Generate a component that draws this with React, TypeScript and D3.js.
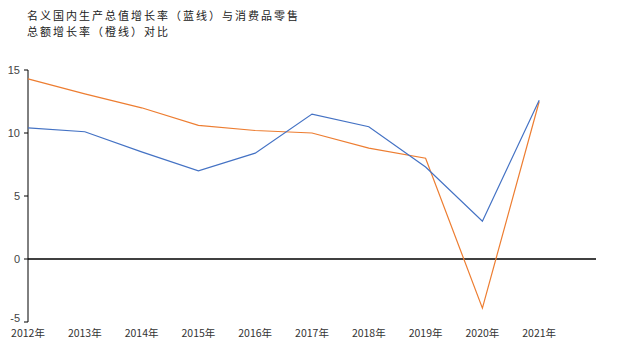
import { useRef, useEffect } from 'react'
import * as d3 from 'd3'

const years = ['2012年', '2013年', '2014年', '2015年', '2016年', '2017年', '2018年', '2019年', '2020年', '2021年']
const gdpGrowth = [10.4, 10.1, 8.5, 7.0, 8.4, 11.5, 10.5, 7.3, 3.0, 12.6]
const retailGrowth = [14.3, 13.1, 12.0, 10.6, 10.2, 10.0, 8.8, 8.0, -3.9, 12.5]
const yTicks = [-5, 0, 5, 10, 15]
const titleLines = ['名义国内生产总值增长率（蓝线）与消费品零售', '总额增长率（橙线）对比']

const App = () => {
  const ref = useRef<SVGSVGElement>(null)

  useEffect(() => {
    const svg = d3.select(ref.current)
    svg.selectAll('*').remove()

    const width = 631
    const height = 354
    const left = 28
    const right = 596
    const top = 70
    const bottom = 322

    svg.attr('width', width).attr('height', height)

    const x = d3.scaleLinear()
      .domain([0, years.length])
      .range([left, right])

    const y = d3.scaleLinear()
      .domain([-5, 15])
      .range([bottom, top])

    const font = '"Noto Sans CJK SC", "Noto Sans", sans-serif'

    // title
    svg.append('g')
      .selectAll('text')
      .data(titleLines)
      .enter()
      .append('text')
      .attr('x', 27)
      .attr('y', (d, i) => 20 + i * 16)
      .style('font-family', font)
      .style('font-size', '11px')
      .style('letter-spacing', '2px')
      .style('fill', '#222')
      .text((d) => d)

    // y axis
    svg.append('line')
      .attr('x1', left).attr('x2', left)
      .attr('y1', y(15)).attr('y2', y(-5))
      .style('stroke', 'black')
      .style('stroke-width', 1)

    const ticks = svg.append('g')
    ticks.selectAll('line')
      .data(yTicks)
      .enter()
      .append('line')
      .attr('x1', left - 4).attr('x2', left)
      .attr('y1', (d) => y(d)).attr('y2', (d) => y(d))
      .style('stroke', 'black')

    ticks.selectAll('text')
      .data(yTicks)
      .enter()
      .append('text')
      .attr('x', left - 8)
      .attr('y', (d) => Math.min(y(d) + 4, bottom))
      .attr('text-anchor', 'end')
      .style('font-family', '"Liberation Sans", Arial, sans-serif')
      .style('font-size', '11px')
      .style('fill', '#444')
      .text((d) => d)

    // zero line
    svg.append('line')
      .attr('x1', left).attr('x2', right)
      .attr('y1', y(0)).attr('y2', y(0))
      .style('stroke', 'black')
      .style('stroke-width', 1.3)

    // x labels
    svg.append('g')
      .selectAll('text')
      .data(years)
      .enter()
      .append('text')
      .attr('x', (d, i) => x(i))
      .attr('y', bottom + 15)
      .attr('text-anchor', 'middle')
      .style('font-family', font)
      .style('font-size', '10.5px')
      .style('fill', '#333')
      .text((d) => d)

    const line = d3.line<number>()
      .x((d, i) => x(i))
      .y((d) => y(d))

    svg.append('path')
      .datum(retailGrowth)
      .attr('d', line)
      .style('fill', 'none')
      .style('stroke', '#ED7D31')
      .style('stroke-width', 1.2)

    svg.append('path')
      .datum(gdpGrowth)
      .attr('d', line)
      .style('fill', 'none')
      .style('stroke', '#4472C4')
      .style('stroke-width', 1.2)
  }, [])

  return (
    <svg ref={ref} style={{ position: 'absolute', left: 0, top: 0, background: 'white' }} />
  )
}

export default App
